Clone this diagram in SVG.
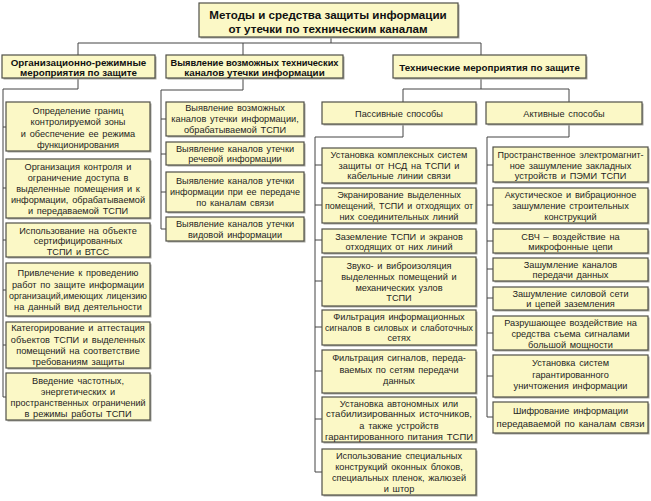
<svg xmlns="http://www.w3.org/2000/svg" width="651" height="501" viewBox="0 0 651 501">
<style>
.b{fill:#FBF8C6;stroke:#505048;stroke-width:1.2}
.s{fill:#a8a8a0}
.t{font-family:"Liberation Sans",Arial,sans-serif;font-size:9.2px;word-spacing:1.2px;fill:#1e1e1e;text-anchor:middle}
.h{font-family:"Liberation Sans",Arial,sans-serif;font-size:9.8px;font-weight:bold;fill:#111;text-anchor:middle}
.ti{font-family:"Liberation Sans",Arial,sans-serif;font-size:11.6px;font-weight:bold;fill:#111;text-anchor:middle}
.c{fill:none;stroke:#444;stroke-width:1}
</style>
<rect width="651" height="501" fill="#fff"/>
<g id="connectors" class="c">
<path d="M331,37V43M78,43H481M78,43V55M243,43V55M481,43V55"/>
<path d="M78,78V89H3V397M3,127H6M3,188H6M3,240H6M3,290H6M3,345H6M3,397H6"/>
<path d="M243,78V90H161V229M161,119H166M161,154H166M161,192H166M161,229H166"/>
<path d="M481,78V89M403,89H569M403,89V102M569,89V102"/>
<path d="M403,124V137H315V472M315,165H322M315,205H322M315,240H322M315,281H322M315,327H322M315,371H322M315,419H322M315,472H322"/>
<path d="M569,124V137H487V417M487,165H493M487,205H493M487,241H493M487,269H493M487,298H493M487,333H493M487,376H493M487,417H493"/>
</g>
<g id="title"><rect class="s" x="200.5" y="4.5" width="259" height="34"/><rect class="b" x="199" y="3" width="259" height="34"/>
<text class="ti" x="328" y="19">Методы и средства защиты информации</text><text class="ti" x="328" y="33">от утечки по техническим каналам</text></g>
<g id="org"><rect class="s" x="3.5" y="56.5" width="153" height="23"/><rect class="b" x="2" y="55" width="153" height="23"/>
<text class="h" x="78.5" y="65.5">Организационно-режимные</text><text class="h" x="78.5" y="76">мероприятия по защите</text></g>
<g id="detect"><rect class="s" x="167.5" y="56.5" width="177" height="23"/><rect class="b" x="166" y="55" width="177" height="23"/>
<text class="h" x="254.5" y="65.5" textLength="168" lengthAdjust="spacingAndGlyphs">Выявление возможных технических</text><text class="h" x="254.5" y="76">каналов утечки информации</text></g>
<g id="tech"><rect class="s" x="394.5" y="56.5" width="193" height="23"/><rect class="b" x="393" y="55" width="193" height="23"/>
<text class="h" x="489.5" y="70.5">Технические мероприятия по защите</text></g>
<g id="passive"><rect class="s" x="323.5" y="103.5" width="154" height="22"/><rect class="b" x="322" y="102" width="154" height="22"/>
<text class="t" x="399" y="116.5">Пассивные способы</text></g>
<g id="active"><rect class="s" x="487.5" y="103.5" width="156" height="22"/><rect class="b" x="486" y="102" width="156" height="22"/>
<text class="t" x="564" y="116.5">Активные способы</text></g>

<g id="o1"><rect class="s" x="7.5" y="103.5" width="144" height="49"/><rect class="b" x="6" y="102" width="144" height="49"/>
<text class="t" x="78" y="113.5">Определение границ</text><text class="t" x="78" y="125">контролируемой зоны</text><text class="t" x="78" y="136.5">и обеспечение ее режима</text><text class="t" x="78" y="148">функционирования</text></g>
<g id="o2"><rect class="s" x="7.5" y="160.5" width="144" height="59"/><rect class="b" x="6" y="159" width="144" height="59"/>
<text class="t" x="78" y="170">Организация контроля и</text><text class="t" x="78" y="181">ограничение доступа в</text><text class="t" x="78" y="192">выделенные помещения и к</text><text class="t" x="78" y="203">информации, обрабатываемой</text><text class="t" x="78" y="214">и передаваемой ТСПИ</text></g>
<g id="o3"><rect class="s" x="7.5" y="224.5" width="144" height="34"/><rect class="b" x="6" y="223" width="144" height="34"/>
<text class="t" x="78" y="233.5">Использование на объекте</text><text class="t" x="78" y="244">сертифицированных</text><text class="t" x="78" y="254.5">ТСПИ и ВТСС</text></g>
<g id="o4"><rect class="s" x="7.5" y="264.5" width="144" height="53"/><rect class="b" x="6" y="263" width="144" height="53"/>
<text class="t" x="78" y="276">Привлечение к проведению</text><text class="t" x="78" y="287.5">работ по защите информации</text><text class="t" x="78" y="299" textLength="138" lengthAdjust="spacingAndGlyphs">организаций,имеющих лицензию</text><text class="t" x="78" y="310">на данный вид деятельности</text></g>
<g id="o5"><rect class="s" x="7.5" y="323.5" width="144" height="46"/><rect class="b" x="6" y="322" width="144" height="46"/>
<text class="t" x="78" y="331">Категорирование и аттестация</text><text class="t" x="78" y="342.5">объектов ТСПИ и выделенных</text><text class="t" x="78" y="354">помещений на соответствие</text><text class="t" x="78" y="365">требованиям защиты</text></g>
<g id="o6"><rect class="s" x="7.5" y="374.5" width="144" height="47"/><rect class="b" x="6" y="373" width="144" height="47"/>
<text class="t" x="78" y="384">Введение частотных,</text><text class="t" x="78" y="395">энергетических и</text><text class="t" x="78" y="406" textLength="135" lengthAdjust="spacingAndGlyphs">пространственных ограничений</text><text class="t" x="78" y="417">в режимы работы ТСПИ</text></g>

<g id="d1"><rect class="s" x="167.5" y="103.5" width="138" height="34"/><rect class="b" x="166" y="102" width="138" height="34"/>
<text class="t" x="235" y="110.5">Выявление возможных</text><text class="t" x="235" y="121.5">каналов утечки информации,</text><text class="t" x="235" y="132.5">обрабатываемой ТСПИ</text></g>
<g id="d2"><rect class="s" x="167.5" y="143.5" width="138" height="23"/><rect class="b" x="166" y="142" width="138" height="23"/>
<text class="t" x="235" y="151.5">Выявление каналов утечки</text><text class="t" x="235" y="162">речевой информации</text></g>
<g id="d3"><rect class="s" x="167.5" y="173.5" width="138" height="40"/><rect class="b" x="166" y="172" width="138" height="40"/>
<text class="t" x="235" y="184">Выявление каналов утечки</text><text class="t" x="235" y="195" textLength="130" lengthAdjust="spacingAndGlyphs">информации при ее передаче</text><text class="t" x="235" y="206">по каналам связи</text></g>
<g id="d4"><rect class="s" x="167.5" y="218.5" width="138" height="24"/><rect class="b" x="166" y="217" width="138" height="24"/>
<text class="t" x="235" y="227">Выявление каналов утечки</text><text class="t" x="235" y="238">видовой информации</text></g>

<g id="p1"><rect class="s" x="323.5" y="149.5" width="154" height="35"/><rect class="b" x="322" y="148" width="154" height="35"/>
<text class="t" x="399" y="158">Установка комплексных систем</text><text class="t" x="399" y="168.5">защиты от НСД на ТСПИ и</text><text class="t" x="399" y="179">кабельные линии связи</text></g>
<g id="p2"><rect class="s" x="323.5" y="189.5" width="154" height="35"/><rect class="b" x="322" y="188" width="154" height="35"/>
<text class="t" x="399" y="198">Экранирование выделенных</text><text class="t" x="399" y="209" textLength="148" lengthAdjust="spacingAndGlyphs">помещений, ТСПИ и отходящих от</text><text class="t" x="399" y="220">них соединительных линий</text></g>
<g id="p3"><rect class="s" x="323.5" y="230.5" width="154" height="24"/><rect class="b" x="322" y="229" width="154" height="24"/>
<text class="t" x="399" y="239.5">Заземление ТСПИ и экранов</text><text class="t" x="399" y="250">отходящих от них линий</text></g>
<g id="p4"><rect class="s" x="323.5" y="258.5" width="154" height="49"/><rect class="b" x="322" y="257" width="154" height="49"/>
<text class="t" x="399" y="269">Звуко- и виброизоляция</text><text class="t" x="399" y="280">выделенных помещений и</text><text class="t" x="399" y="290.5">механических узлов</text><text class="t" x="399" y="301">ТСПИ</text></g>
<g id="p5"><rect class="s" x="323.5" y="311.5" width="154" height="35"/><rect class="b" x="322" y="310" width="154" height="35"/>
<text class="t" x="399" y="320">Фильтрация информационных</text><text class="t" x="399" y="330.5" textLength="148" lengthAdjust="spacingAndGlyphs">сигналов в силовых и слаботочных</text><text class="t" x="399" y="341">сетях</text></g>
<g id="p6"><rect class="s" x="323.5" y="351.5" width="154" height="43"/><rect class="b" x="322" y="350" width="154" height="43"/>
<text class="t" x="399" y="361">Фильтрация сигналов, переда-</text><text class="t" x="399" y="373">ваемых по сетям передачи</text><text class="t" x="399" y="384">данных</text></g>
<g id="p7"><rect class="s" x="323.5" y="398.5" width="154" height="45"/><rect class="b" x="322" y="397" width="154" height="45"/>
<text class="t" x="399" y="406.5">Установка автономных или</text><text class="t" x="399" y="417" textLength="146" lengthAdjust="spacingAndGlyphs">стабилизированных источников,</text><text class="t" x="399" y="428.5">а также устройств</text><text class="t" x="399" y="439.5" textLength="148" lengthAdjust="spacingAndGlyphs">гарантированного питания ТСПИ</text></g>
<g id="p8"><rect class="s" x="323.5" y="450.5" width="154" height="46"/><rect class="b" x="322" y="449" width="154" height="46"/>
<text class="t" x="399" y="458.5">Использование специальных</text><text class="t" x="399" y="470">конструкций оконных блоков,</text><text class="t" x="399" y="481">специальных пленок, жалюзей</text><text class="t" x="399" y="492">и штор</text></g>

<g id="a1"><rect class="s" x="494.5" y="148.5" width="155" height="35"/><rect class="b" x="493" y="147" width="155" height="35"/>
<text class="t" x="570.5" y="158" textLength="146" lengthAdjust="spacingAndGlyphs">Пространственное электромагнит-</text><text class="t" x="570.5" y="168.5">ное зашумление закладных</text><text class="t" x="570.5" y="179">устройств и ПЭМИ ТСПИ</text></g>
<g id="a2"><rect class="s" x="494.5" y="189.5" width="155" height="35"/><rect class="b" x="493" y="188" width="155" height="35"/>
<text class="t" x="570.5" y="198">Акустическое и вибрационное</text><text class="t" x="570.5" y="209">зашумление строительных</text><text class="t" x="570.5" y="220">конструкций</text></g>
<g id="a3"><rect class="s" x="494.5" y="230.5" width="155" height="24"/><rect class="b" x="493" y="229" width="155" height="24"/>
<text class="t" x="570.5" y="239.5">СВЧ – воздействие на</text><text class="t" x="570.5" y="250">микрофонные цепи</text></g>
<g id="a4"><rect class="s" x="494.5" y="259.5" width="155" height="23"/><rect class="b" x="493" y="258" width="155" height="23"/>
<text class="t" x="570.5" y="267.5">Зашумление каналов</text><text class="t" x="570.5" y="278">передачи данных</text></g>
<g id="a5"><rect class="s" x="494.5" y="288.5" width="155" height="23"/><rect class="b" x="493" y="287" width="155" height="23"/>
<text class="t" x="570.5" y="296.5">Зашумление силовой сети</text><text class="t" x="570.5" y="307">и цепей заземления</text></g>
<g id="a6"><rect class="s" x="494.5" y="317.5" width="155" height="34"/><rect class="b" x="493" y="316" width="155" height="34"/>
<text class="t" x="570.5" y="326">Разрушающее воздействие на</text><text class="t" x="570.5" y="337">средства съема сигналами</text><text class="t" x="570.5" y="347.5">большой мощности</text></g>
<g id="a7"><rect class="s" x="494.5" y="356.5" width="155" height="42"/><rect class="b" x="493" y="355" width="155" height="42"/>
<text class="t" x="570.5" y="366">Установка систем</text><text class="t" x="570.5" y="377.5">гарантированного</text><text class="t" x="570.5" y="389">уничтожения информации</text></g>
<g id="a8"><rect class="s" x="494.5" y="403.5" width="155" height="31"/><rect class="b" x="493" y="402" width="155" height="31"/>
<text class="t" x="570.5" y="414">Шифрование информации</text><text class="t" x="570.5" y="426.5" textLength="148" lengthAdjust="spacingAndGlyphs">передаваемой по каналам связи</text></g>
</svg>
